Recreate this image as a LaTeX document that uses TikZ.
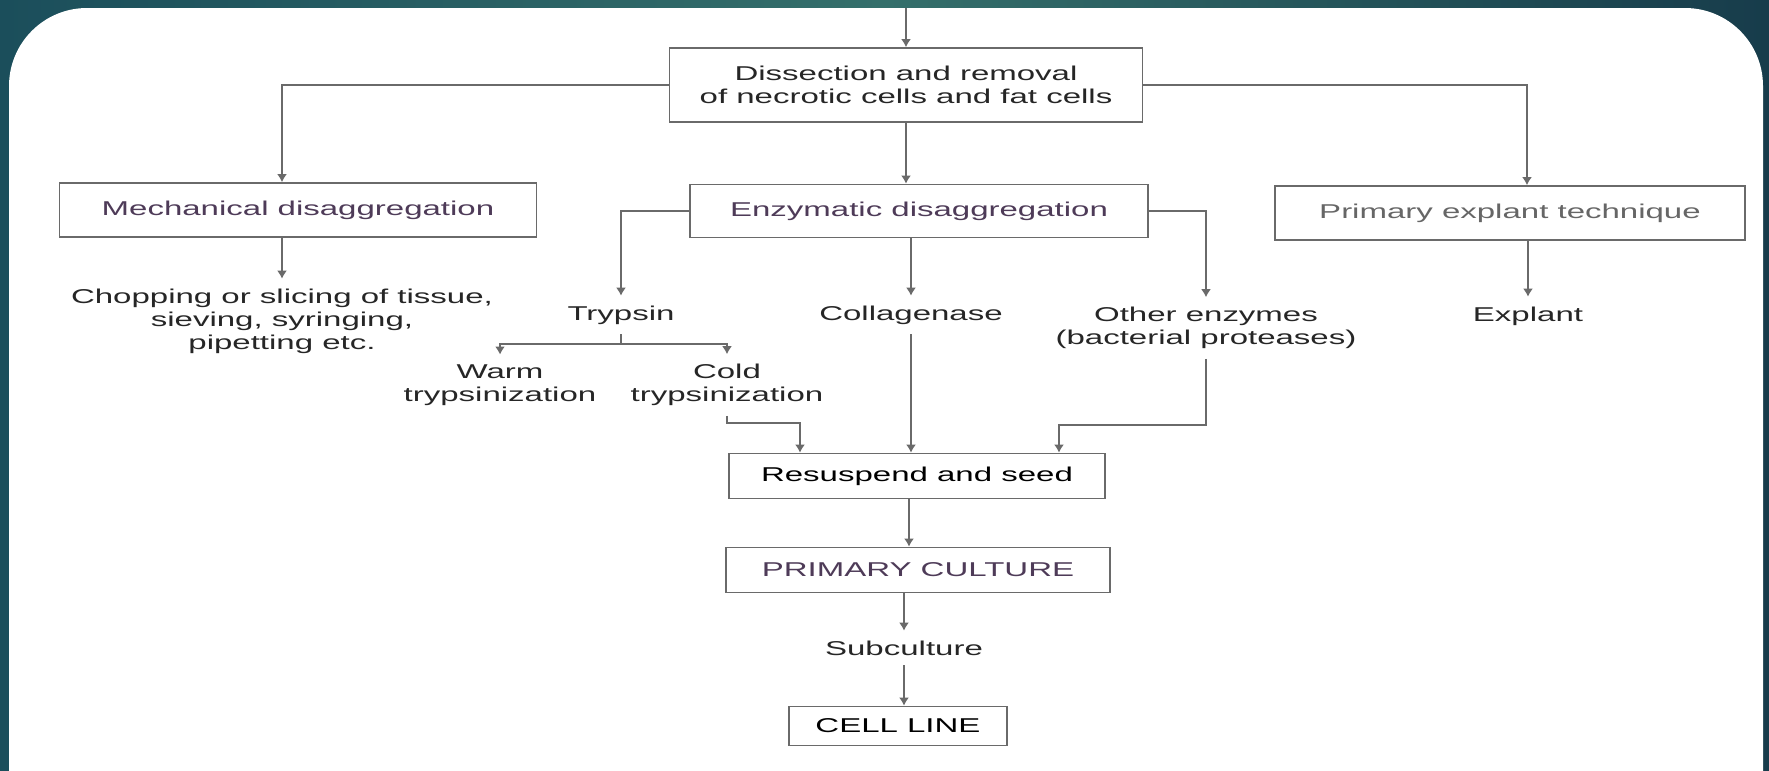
\documentclass[tikz,border=0pt]{standalone}
\usepackage{fontspec}
\setmainfont{Liberation Sans}[FakeStretch=1.65]
\usetikzlibrary{arrows.meta,calc}
\definecolor{bgleft}{HTML}{1B4E5B}
\definecolor{bgmid}{HTML}{346F6B}
\definecolor{bgright}{HTML}{173C4B}
\definecolor{ink}{HTML}{262626}
\definecolor{inkpurple}{HTML}{4E3B58}
\definecolor{rule}{HTML}{6A6A6A}
\begin{document}
\begin{tikzpicture}[x=0.5pt,y=-0.5pt,
        font=\fontsize{10}{11.5}\selectfont,text=ink,
        box/.style={draw=rule,line width=0.9pt,align=center,inner sep=0pt},
        lbl/.style={align=center,inner sep=2pt,outer sep=3pt},
        ln/.style={draw=rule,line width=0.9pt},
        arr/.style={ln,-{Latex[width=5pt,length=4pt]}}]
            \useasboundingbox (0,0) rectangle (1769,771);
            % slide background
            \shade[left color=bgleft,right color=bgright,middle color=bgmid] (0,0) rectangle (1769,771);
            \fill[white] (9,900) [rounded corners=39pt] -- (9,8) -- (1763,8) -- (1763,900) -- cycle;
            % boxes and labels
            \node[box,minimum width=236.5pt,minimum height=37pt] (diss) at (906,85)
                {Dissection and removal\\of necrotic cells and fat cells};
            \node[box,minimum width=238.5pt,minimum height=27pt,text=inkpurple] (mech) at (298,210) {Mechanical disaggregation};
            \node[box,minimum width=229pt,minimum height=26.5pt,text=inkpurple] (enz) at (919,211) {Enzymatic disaggregation};
            \node[box,minimum width=235pt,minimum height=27pt,text=black!60] (prim) at (1510,213) {Primary explant technique};
            \node[lbl] (chop) at (282,321) {Chopping or slicing of tissue,\\sieving, syringing,\\pipetting etc.};
            \node[lbl] (tryp) at (621,315) {Trypsin};
            \node[lbl] (coll) at (911,315) {Collagenase};
            \node[lbl] (other) at (1206,328) {Other enzymes\\(bacterial proteases)};
            \node[lbl] (expl) at (1528,316) {Explant};
            \node[lbl] (warm) at (500,385) {Warm\\trypsinization};
            \node[lbl] (cold) at (727,385) {Cold\\trypsinization};
            \node[box,minimum width=188pt,minimum height=22.5pt,text=black] (res) at (917,476) {Resuspend and seed};
            \node[box,minimum width=192pt,minimum height=22.5pt,text=inkpurple] (pcult) at (918,570) {PRIMARY CULTURE};
            \node[lbl] (subc) at (904,648) {Subculture};
            \node[box,minimum width=109pt,minimum height=19.5pt,text=black] (cline) at (898,726) {CELL LINE};
            % connectors
            \coordinate (src) at (906,8);
            \draw[arr] (src) -- (diss.north);
            \draw[arr] (diss.west) -| ($(mech.north)+(-16,0)$);
            \draw[arr] (diss.east) -| ($(prim.north)+(17,0)$);
            \draw[arr] (diss.south) -- (diss.south |- enz.north);
            \draw[arr] (mech.south -| chop.north) -- (chop.north);
            \draw[arr] (enz.west) -| (tryp.north);
            \draw[arr] (enz.south -| coll.north) -- (coll.north);
            \draw[arr] (enz.east) -| (other.north);
            \draw[arr] (prim.south -| expl.north) -- (expl.north);
            \draw[ln] (tryp.south) -- ++(0,10) coordinate (tsplit);
            \draw[arr] (tsplit) -| (warm.north);
            \draw[arr] (tsplit) -| (cold.north);
            \draw[arr] (cold.south) -- (cold.south |- 0,423) -| ($(res.north)+(-117,0)$);
            \draw[arr] (coll.south) -- (coll.south |- res.north);
            \draw[arr] (other.south) -- (other.south |- 0,425) -| ($(res.north)+(142,0)$);
            \draw[arr] (res.south -| 909,0) -- (pcult.north -| 909,0);
            \draw[arr] (pcult.south -| subc.north) -- (subc.north);
            \draw[arr] (subc.south) -- (subc.south |- cline.north);
\end{tikzpicture}
\end{document}
